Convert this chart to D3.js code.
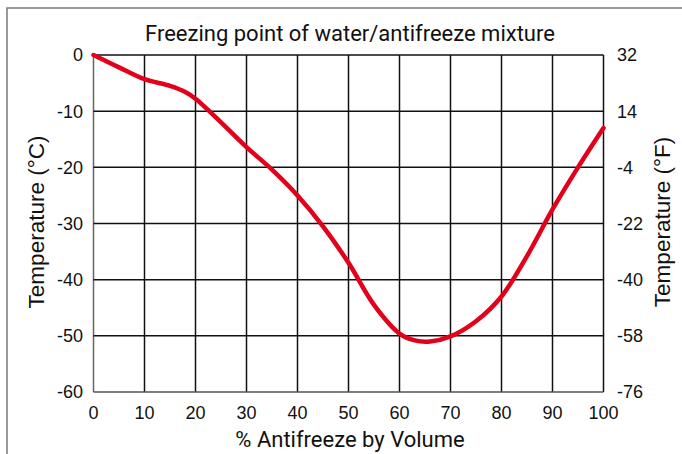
<!DOCTYPE html>
<html><head><meta charset="utf-8">
<script src="https://cdn.jsdelivr.net/npm/d3@7"></script>
<style>body{margin:0;background:#fff}svg{display:block}</style>
</head><body>
<svg id="c" width="682" height="454"></svg>
<script>
const pct = [0,5,10,15,18,20,25,30,35,40,45,50,55,60,63,66,70,75,80,85,90,95,100];
const tempC = [0,-2.2,-4.3,-5.5,-6.6,-7.8,-12,-16.4,-20.4,-25,-30.5,-37,-44.5,-49.6,-50.8,-51,-50.1,-47.4,-43,-35.8,-27.5,-20,-13];
const xTicks = [0,10,20,30,40,50,60,70,80,90,100];
const cTicks = [0,-10,-20,-30,-40,-50,-60];
const fLabels = ["32","14","-4","-22","-40","-58","-76"];

const svg = d3.select("#c");
const L=93.5, R=603.5, T=55, B=392;
const x = d3.scaleLinear().domain([0,100]).range([L,R]);
const y = d3.scaleLinear().domain([0,-60]).range([T,B]);

// frame
svg.append("path").attr("d","M7,454 V8 H682").attr("fill","none").attr("stroke","#7a7a7a").attr("stroke-width",1.5);

// grid
const g = svg.append("g");
g.selectAll(".vx").data(xTicks).join("line")
  .attr("x1",d=>x(d)).attr("x2",d=>x(d)).attr("y1",T).attr("y2",B)
  .attr("stroke",d=>d===0?"#666":"#111").attr("stroke-width",1.5);
g.selectAll(".hy").data(cTicks).join("line")
  .attr("x1",L).attr("x2",R).attr("y1",d=>y(d)).attr("y2",d=>y(d))
  .attr("stroke",d=>d===-60?"#555":"#111").attr("stroke-width",1.5);

const tf = "'Liberation Sans', Arial, sans-serif";
// left ticks
svg.selectAll(".lt").data(cTicks).join("text")
  .attr("x",83).attr("y",d=>y(d)).attr("dy","0.36em").attr("text-anchor","end")
  .attr("font-family",tf).attr("font-size",18).attr("fill","#111").text(d=>d);
// right ticks
svg.selectAll(".rt").data(cTicks).join("text")
  .attr("x",617).attr("y",d=>y(d)).attr("dy","0.36em").attr("text-anchor","start")
  .attr("font-family",tf).attr("font-size",18).attr("fill","#111").text((d,i)=>fLabels[i]);
// bottom ticks
svg.selectAll(".bt").data(xTicks).join("text")
  .attr("x",d=>x(d)).attr("y",419).attr("text-anchor","middle")
  .attr("font-family",tf).attr("font-size",18).attr("fill","#111").text(d=>d);

// titles
svg.append("text").attr("x",350).attr("y",41).attr("text-anchor","middle")
  .attr("font-family","Roboto, sans-serif").attr("font-weight",400).attr("font-size",22).attr("fill","#111")
  .text("Freezing point of water/antifreeze mixture");
svg.append("text").attr("x",350).attr("y",447).attr("text-anchor","middle")
  .attr("font-family","Roboto, sans-serif").attr("font-weight",400).attr("font-size",22).attr("fill","#111")
  .text("% Antifreeze by Volume");
svg.append("text").attr("transform","translate(44,222) rotate(-90)").attr("text-anchor","middle")
  .attr("font-family",tf).attr("font-size",22.5).attr("fill","#111")
  .text("Temperature (°C)");
svg.append("text").attr("transform","translate(670,222) rotate(-90)").attr("text-anchor","middle")
  .attr("font-family",tf).attr("font-size",22.5).attr("fill","#111")
  .text("Temperature (°F)");

// curve
const data = pct.map((p,i)=>[p,tempC[i]]);
svg.append("path").datum(data)
  .attr("d",d3.line().x(d=>x(d[0])).y(d=>y(d[1])).curve(d3.curveCatmullRom.alpha(0.5)))
  .attr("fill","none").attr("stroke","#e3001b").attr("stroke-width",4.5)
  .attr("stroke-linecap","round").attr("stroke-linejoin","round");
</script>
</body></html>
